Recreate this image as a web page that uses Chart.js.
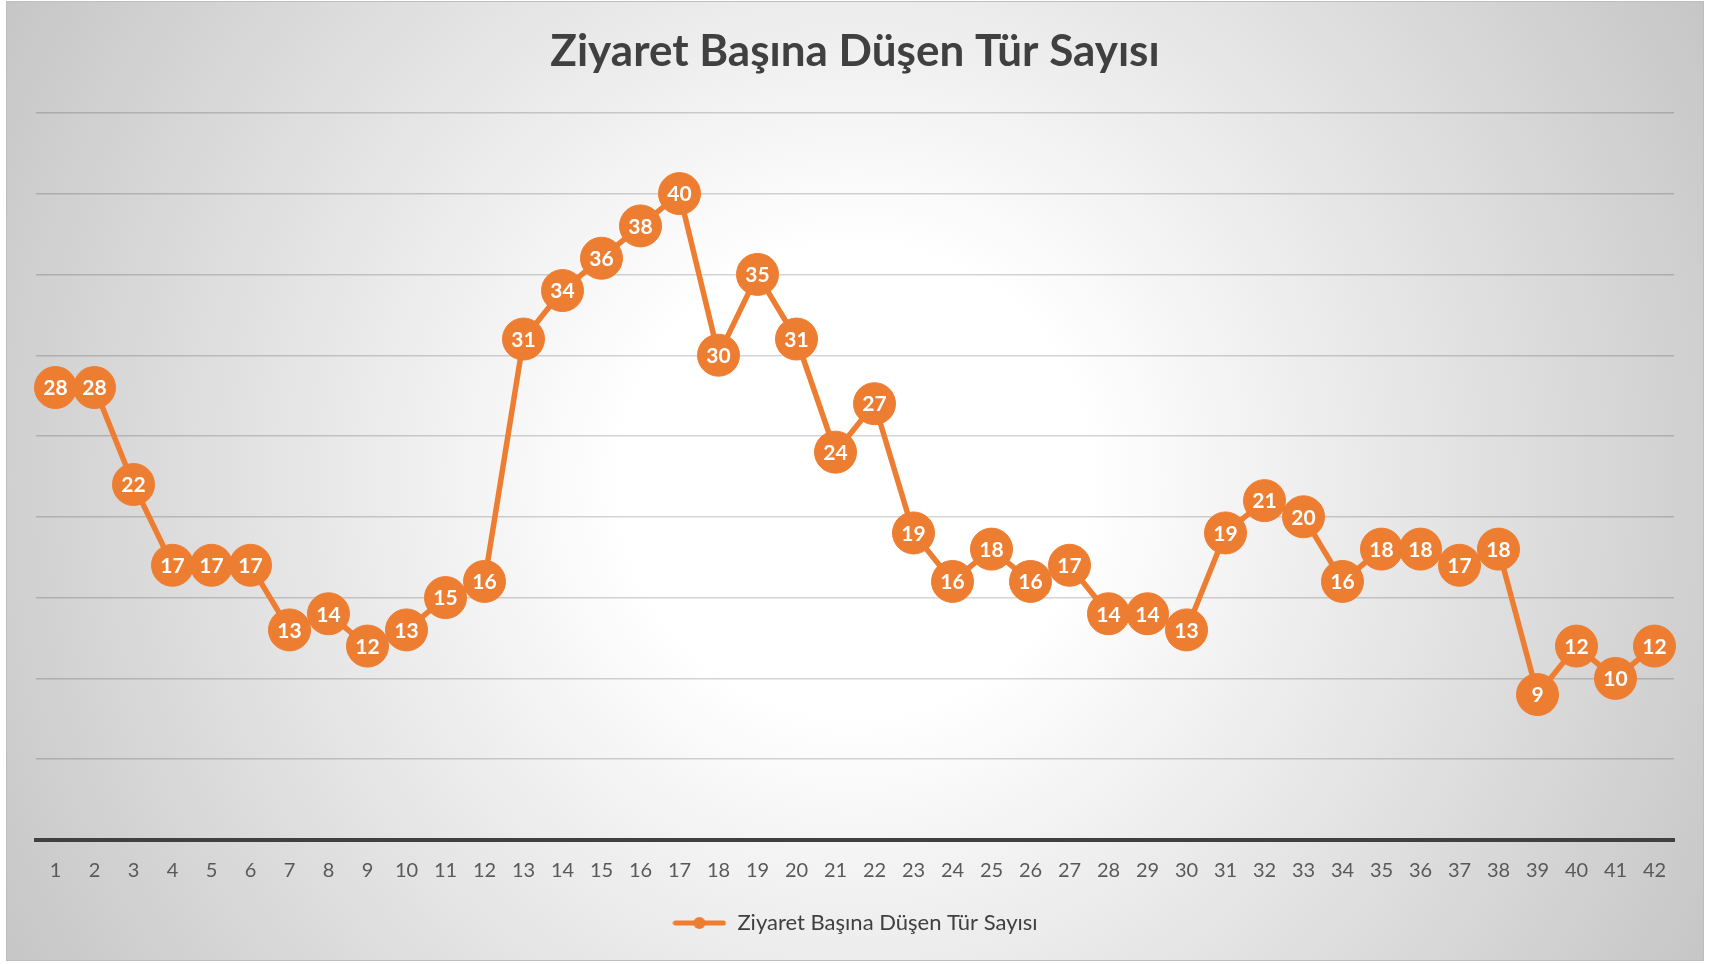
<!DOCTYPE html>
<html>
<head>
<meta charset="utf-8">
<script src="https://cdn.jsdelivr.net/npm/chart.js@4.4.1/dist/chart.umd.min.js"></script>
<style>
  html, body { margin: 0; padding: 0; background: #ffffff; }
  #frame {
    position: absolute; left: 6px; top: 1px; width: 1698px; height: 960px;
    box-sizing: border-box; border: 1px solid #bdbdbd;
    background: radial-gradient(circle farthest-corner at 50% 50%, #ffffff 0%, #ffffff 24%, #c6c6c6 100%);
    overflow: hidden;
  }
  canvas { position: absolute; left: -7px; top: -2px; }
</style>
</head>
<body>
<div id="frame"><canvas id="c" width="1709" height="964"></canvas></div>
<script>
const categories = ["1","2","3","4","5","6","7","8","9","10","11","12","13","14","15","16","17","18","19","20","21","22","23","24","25","26","27","28","29","30","31","32","33","34","35","36","37","38","39","40","41","42"];
const seriesName = "Ziyaret Başına Düşen Tür Sayısı";
const values = [28,28,22,17,17,17,13,14,12,13,15,16,31,34,36,38,40,30,35,31,24,27,19,16,18,16,17,14,14,13,19,21,20,16,18,18,17,18,9,12,10,12];
const titleText = "Ziyaret Başına Düşen Tür Sayısı";
const yMin = 0, yMax = 45, yStep = 5;

const ORANGE = "#ED7D31";

// legend marker: line with dot
const mk = document.createElement('canvas');
mk.width = 54; mk.height = 14;
(function(){
  const g = mk.getContext('2d');
  g.strokeStyle = ORANGE; g.lineWidth = 5; g.lineCap = 'round';
  g.beginPath(); g.moveTo(3, 7); g.lineTo(51, 7); g.stroke();
  g.fillStyle = ORANGE; g.beginPath(); g.arc(27, 7, 6, 0, Math.PI*2); g.fill();
})();

const labelPlugin = {
  id: 'valueLabels',
  afterDatasetsDraw(chart) {
    const ctx = chart.ctx;
    const meta = chart.getDatasetMeta(0);
    const data = chart.data.datasets[0].data;
    ctx.save();
    ctx.font = "bold 21px Lato";
    ctx.fillStyle = "#ffffff";
    ctx.textAlign = "center";
    ctx.textBaseline = "middle";
    meta.data.forEach((pt, i) => {
      ctx.fillText(String(data[i]), pt.x, pt.y + 1);
    });
    ctx.restore();
  }
};

new Chart(document.getElementById('c'), {
  type: 'line',
  data: {
    labels: categories,
    datasets: [{
      label: seriesName,
      data: values,
      borderColor: ORANGE,
      backgroundColor: ORANGE,
      borderWidth: 5.5,
      pointRadius: 21,
      pointBorderWidth: 1,
      pointBorderColor: ORANGE,
      pointBackgroundColor: ORANGE,
      pointHoverRadius: 21,
      tension: 0,
      clip: false,
      pointStyle: 'circle'
    }]
  },
  options: {
    responsive: false,
    animation: false,
    devicePixelRatio: 1,
    layout: { padding: { left: 36, right: 35, top: 0, bottom: 20 } },
    plugins: {
      title: {
        display: true,
        text: titleText,
        color: "#404040",
        font: { family: "Lato", size: 44, weight: "bold", lineHeight: 1.2 },
        padding: { top: 25, bottom: 35 }
      },
      legend: {
        display: true,
        position: 'bottom',
        labels: {
          color: "#404040",
          font: { family: "Lato", size: 22 },
          usePointStyle: true,
          pointStyleWidth: 54,
          padding: 10,
          generateLabels(chart) {
            const ds = chart.data.datasets[0];
            return [{ text: ds.label, pointStyle: mk, fillStyle: ORANGE, strokeStyle: ORANGE, lineWidth: 0, datasetIndex: 0, fontColor: "#404040" }];
          }
        }
      },
      tooltip: { enabled: false }
    },
    scales: {
      x: {
        type: 'category',
        offset: true,
        grid: { display: false, drawTicks: false },
        border: { display: true, color: "#404040", width: 4 },
        ticks: { color: "#595959", font: { family: "Lato", size: 20 }, padding: 19, maxRotation: 0, autoSkip: false }
      },
      y: {
        min: yMin, max: yMax,
        ticks: { display: false, stepSize: yStep },
        grid: { color: "rgba(0,0,0,0.17)", lineWidth: 1.4, drawTicks: false },
        border: { display: false }
      }
    }
  },
  plugins: [labelPlugin]
});
</script>
</body>
</html>
